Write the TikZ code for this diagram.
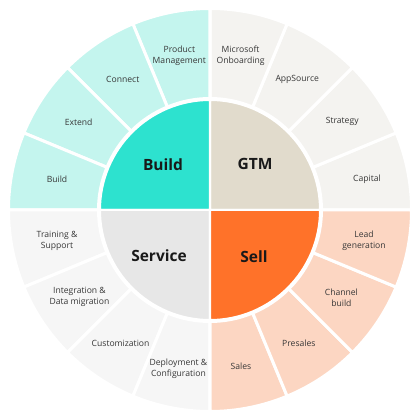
\documentclass[tikz,border=0pt]{standalone}
\usepackage{fontspec}
\setmainfont{Open Sans}
\definecolor{buildD}{RGB}{45,226,207}
\definecolor{buildL}{RGB}{196,245,238}
\definecolor{gtmD}{RGB}{225,219,204}
\definecolor{gtmL}{RGB}{244,243,240}
\definecolor{sellD}{RGB}{255,114,41}
\definecolor{sellL}{RGB}{252,214,194}
\definecolor{servD}{RGB}{231,231,231}
\definecolor{servL}{RGB}{246,246,246}
\definecolor{labtxt}{RGB}{55,55,55}
\tikzset{
  seglabel/.style={align=center, text=labtxt, font=\fontsize{8.6}{11}\selectfont, inner sep=0pt},
  quadlabel/.style={text=black!90, font=\fontsize{15.5}{18}\bfseries\selectfont, inner sep=0pt},
  ringseg/.style={draw=white, line width=3pt, line join=miter},
  quadseg/.style={draw=white, line width=2pt},
}
\begin{document}
\begin{tikzpicture}[x=1pt,y=1pt]
\useasboundingbox (-210,-210) rectangle (210,210);
\fill[white] (-210,-210) rectangle (210,210);
% outer ring segments
\foreach \a/\c in {0/gtmL,22.5/gtmL,45/gtmL,67.5/gtmL,
                   90/buildL,112.5/buildL,135/buildL,157.5/buildL,
                   180/servL,202.5/servL,225/servL,247.5/servL,
                   270/sellL,292.5/sellL,315/sellL,337.5/sellL}{
  \pgfmathsetmacro{\b}{\a+22.5}
  \path[ringseg, fill=\c] (\a:111.5) -- (\a:201.5) arc[start angle=\a, end angle=\b, radius=201.5] -- (\b:111.5) arc[start angle=\b, end angle=\a, radius=111.5] -- cycle;
}
% inner quadrants
\path[quadseg, fill=gtmD] (0,0) -- (0:110) arc[start angle=0,end angle=90,radius=110] -- cycle;
\path[quadseg, fill=buildD] (0,0) -- (90:110) arc[start angle=90,end angle=180,radius=110] -- cycle;
\path[quadseg, fill=servD] (0,0) -- (180:110) arc[start angle=180,end angle=270,radius=110] -- cycle;
\path[quadseg, fill=sellD] (0,0) -- (270:110) arc[start angle=270,end angle=360,radius=110] -- cycle;
% quadrant labels
\node[quadlabel] (qbuild) at (-47,45) {Build};
\node[quadlabel] (qgtm) at (45,46) {GTM};
\node[quadlabel] (qserv) at (-51,-46) {Service};
\node[quadlabel] (qsell) at (44,-47) {Sell};
% segment labels
\node[seglabel] (pm) at (101.25:157) {Product\\Management};
\node[seglabel] (connect) at (123.75:157) {Connect};
\node[seglabel] (extend) at (146.25:158) {Extend};
\node[seglabel] (build) at (168.75:156) {Build};
\node[seglabel] (mso) at (78.75:157) {Microsoft\\Onboarding};
\node[seglabel] (apps) at (56.25:157) {AppSource};
\node[seglabel] (strat) at (33.75:159) {Strategy};
\node[seglabel] (cap) at (11.25:160) {Capital};
\node[seglabel] (lead) at (-11.25:157) {Lead\\generation};
\node[seglabel] (chan) at (-33.75:158) {Channel\\build};
\node[seglabel] (pres) at (-56.25:160) {Presales};
\node[seglabel] (sales) at (-78.75:159) {Sales};
\node[seglabel] (train) at (191.25:156) {Training \&\\Support};
\node[seglabel] (integ) at (213.75:157) {Integration \&\\Data migration};
\node[seglabel] (custom) at (236.25:161) {Customization};
\node[seglabel] (deploy) at (258.75:162) {Deployment \&\\Configuration};
\end{tikzpicture}
\end{document}
